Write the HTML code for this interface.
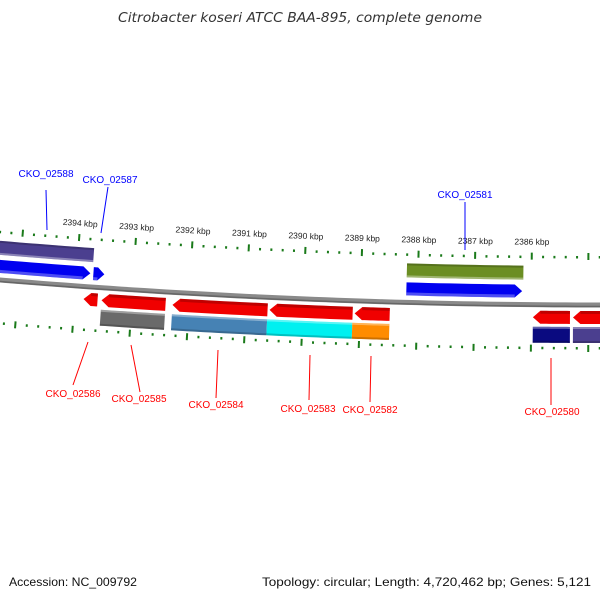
<!DOCTYPE html>
<html><head><meta charset="utf-8"><style>
html,body{margin:0;padding:0;background:#fff;}
svg{display:block;font-family:"Liberation Sans","DejaVu Sans",sans-serif;}
</style></head><body>
<svg id="map" width="600" height="600" viewBox="0 0 600 600">
<text x="118" y="22" font-size="13" font-style="italic" fill="#333" textLength="364" lengthAdjust="spacingAndGlyphs" style="font-family:'DejaVu Sans',sans-serif">Citrobacter koseri ATCC BAA-895, complete genome</text>
<text x="9" y="586" font-size="12" fill="#111" textLength="128" lengthAdjust="spacingAndGlyphs">Accession: NC_009792</text>
<text x="262" y="586" font-size="12" fill="#111" textLength="329" lengthAdjust="spacingAndGlyphs">Topology: circular; Length: 4,720,462 bp; Genes: 5,121</text>
<g id="layer"></g>
</svg>
<script>
// data (bp)
const geneNames = ["CKO_02588","CKO_02587","CKO_02581","CKO_02586","CKO_02585","CKO_02584","CKO_02583","CKO_02582","CKO_02580","CKO_02579"];
const geneStarts = [2395700,2393705,2388198,2393846,2393530,2392285,2390583,2389092,2385970,2385268];
const geneEnds   = [2393758,2393512,2386163,2393600,2392407,2390618,2389127,2388478,2385321,2384400];
const geneStrand = [1,1,1,-1,-1,-1,-1,-1,-1,-1];
const blastStarts = [2395700,2388198,2393530,2392285,2390618,2389127,2385970,2385268];
const blastEnds   = [2393723,2386145,2392407,2390618,2389127,2388478,2385321,2384400];
const blastColors = ["#4b3f8f","#6b8e23","#6a6a6a","#4682b4","#00f0f0","#ff8c00","#0a0a80","#4b3f8f"];
const tickStart = 2384600, tickEnd = 2395800, tickStep = 200;
const labelKbp = [2394,2393,2392,2391,2390,2389,2388,2387,2386];
const labelGenes = [0,1,2,3,4,5,6,7,8];

const R0=7200, CX=600, CYC=305-7200, BP0=2384795, BPPX=17.54;
function phi(bp){return (BP0-bp)/BPPX/R0;}
function pos(bp,r){const p=phi(bp);const rr=2*R0-r;return [CX+rr*Math.sin(p), CYC+rr*Math.cos(p)];}
const NS="http://www.w3.org/2000/svg";
const layer=document.getElementById('layer');
function mk(tag,attrs){const e=document.createElementNS(NS,tag);for(const k in attrs)e.setAttribute(k,attrs[k]);layer.appendChild(e);return e;}
function arcPts(a,b,r,n){const pts=[];for(let i=0;i<=n;i++){const bp=a+(b-a)*i/n;pts.push(pos(bp,r));}return pts;}
function band(a,b,r1,r2){return arcPts(a,b,r2,12).concat(arcPts(b,a,r1,12));}
function ptsStr(p){return p.map(q=>q[0].toFixed(2)+','+q[1].toFixed(2)).join(' ');}

// backbone
let bb=mk('polyline',{points:ptsStr(arcPts(2396000,2384000,R0,60)),fill:'none',stroke:'#8a8a8a','stroke-width':5});


let bb2=mk('polyline',{points:ptsStr(arcPts(2396000,2384000,R0-1.5,60)),fill:'none',stroke:'#666','stroke-width':1.5});



// ticks
for(let bp=tickStart;bp<=tickEnd;bp+=tickStep){
  const major=(bp%1000===0);
  [[45,52,46.5,49],[-40,-47,-42,-44.5]].forEach((d,i)=>{
    const r1=R0+(major?d[0]:d[2]), r2=R0+(major?d[1]:d[3]);
    const p1=pos(bp,r1),p2=pos(bp,r2);
    const t=mk('line',{x1:p1[0],y1:p1[1],x2:p2[0],y2:p2[1],stroke:'#1a7a1a','stroke-width':2});
    
    
  });
}
labelKbp.forEach(k=>{
  const p=pos(k*1000,R0+60);const deg=-phi(k*1000)*180/Math.PI;
  const t=mk('text',{x:p[0],y:p[1],'font-size':8.5,fill:'#222','text-anchor':'middle',transform:`rotate(${deg.toFixed(2)} ${p[0]} ${p[1]})`});
  t.textContent=k+' kbp';
  
  
});

// second ring bands
blastStarts.forEach((s,i)=>{
  const top = i<2;
  const r1=top?R0+25:R0-38, r2=top?R0+39:R0-22;
  const e=mk('polygon',{points:ptsStr(band(s,blastEnds[i],r1,r2)),fill:blastColors[i]});
  
  
  const h=mk('polygon',{points:ptsStr(band(s,blastEnds[i],top?r1:r2-2,top?r1+2:r2)),fill:'#fff','fill-opacity':0.35});
  
  
  const d=mk('polygon',{points:ptsStr(band(s,blastEnds[i],top?r2-2:r1,top?r2:r1+2)),fill:'#000','fill-opacity':0.2});
  
  
});

// genes (arrows)
geneStarts.forEach((s,i)=>{
  const e=geneEnds[i], fwd=geneStrand[i]>0;
  const r1=fwd?R0+7:R0-19, r2=fwd?R0+20:R0-6, rm=(r1+r2)/2;
  const head=Math.min(130,(s-e)*0.6);
  let pts;
  if(fwd){
    pts=arcPts(s,e+head,r2,10).concat([pos(e,rm)]).concat(arcPts(e+head,s,r1,10));
  }else{
    pts=[pos(s,rm)].concat(arcPts(s-head,e,r2,10)).concat(arcPts(e,s-head,r1,10));
  }
  const col=fwd?'#0000f0':'#f00000';
  const g=mk('polygon',{points:ptsStr(pts),fill:col});
  
  
  const a=fwd?s:s-head, b=fwd?e+head:e;
  const sh=mk('polygon',{points:ptsStr(band(a,b,fwd?r1:r2-3,fwd?r1+3:r2)),fill:fwd?'#fff':'#000','fill-opacity':fwd?0.3:0.2});
  
  
});

// gene labels
const labelPos=[[46,177,46,190,47,230],[110,183,108,187,101,233],[465,198,465,202,465,250],[73,397,73,385,88,342],[139,402,140,392,131,345],[216,408,216,398,218,350],[308,412,309,400,310,355],[370,413,370,402,371,356],[552,415,551,405,551,358]];
labelGenes.forEach((gi,i)=>{
  const L=labelPos[i], fwd=geneStrand[gi]>0, col=fwd?'#0000ff':'#ff0000';
  const ln=mk('line',{x1:L[2],y1:L[3],x2:L[4],y2:L[5],stroke:col,'stroke-width':1});
  
  
  const t=mk('text',{x:L[0],y:L[1],'font-size':10,fill:col,'text-anchor':'middle'});
  t.textContent=geneNames[gi];
  
  
});
</script>
</body></html>
